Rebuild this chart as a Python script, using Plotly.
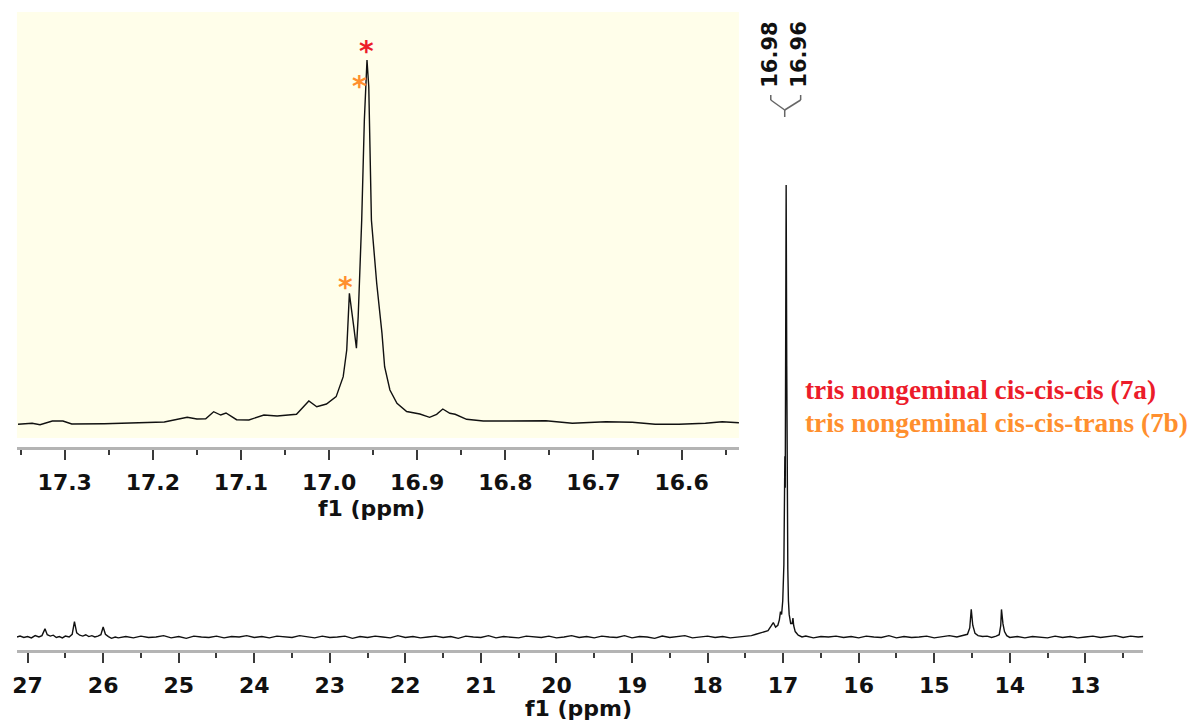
import plotly.graph_objects as go

# ---------------- data ----------------
# main spectrum (ppm, relative intensity)
main_ppm = [27.14, 27.10, 27.05, 27.00, 26.95, 26.90, 26.85, 26.81, 26.77, 26.74,
            26.70, 26.66, 26.62, 26.58, 26.54, 26.50, 26.45, 26.41, 26.38, 26.35,
            26.31, 26.27, 26.23, 26.19, 26.15, 26.11, 26.07, 26.03, 26.00, 25.97,
            25.93, 25.89, 25.84, 25.80,
            25.7, 25.6, 25.5, 25.4, 25.3, 25.2, 25.1, 25.0, 24.9, 24.8,
            24.7, 24.6, 24.5, 24.4, 24.3, 24.2, 24.1, 24.0, 23.9, 23.8,
            23.7, 23.6, 23.5, 23.4, 23.3, 23.2, 23.1, 23.0, 22.9, 22.8,
            22.7, 22.6, 22.5, 22.4, 22.3, 22.2, 22.1, 22.0, 21.9, 21.8,
            21.7, 21.6, 21.5, 21.4, 21.3, 21.2, 21.1, 21.0, 20.9, 20.8,
            20.7, 20.6, 20.5, 20.4, 20.3, 20.2, 20.1, 20.0, 19.9, 19.8,
            19.7, 19.6, 19.5, 19.4, 19.3, 19.2, 19.1, 19.0, 18.9, 18.8,
            18.7, 18.6, 18.5, 18.4, 18.3, 18.2, 18.1, 18.0, 17.9, 17.8,
            17.7, 17.6, 17.5, 17.42, 17.36, 17.30, 17.25, 17.20, 17.16, 17.13,
            17.10, 17.07, 17.05, 17.035, 17.02, 17.005, 16.99, 16.982, 16.977, 16.972,
            16.96, 16.952, 16.945, 16.938, 16.93, 16.92, 16.90, 16.88, 16.87, 16.86,
            16.84, 16.80, 16.75,
            16.7, 16.6, 16.5, 16.4, 16.3, 16.2, 16.1, 16.0, 15.9, 15.8,
            15.7, 15.6, 15.5, 15.4, 15.3, 15.2, 15.1, 15.0, 14.9, 14.8,
            14.7, 14.62, 14.56, 14.53, 14.51, 14.49, 14.46, 14.42, 14.36, 14.30,
            14.24, 14.18, 14.14, 14.12, 14.11, 14.09, 14.07, 14.04,
            14.0, 13.9, 13.8, 13.7, 13.6, 13.5, 13.4, 13.3, 13.2, 13.1,
            13.0, 12.9, 12.8, 12.7, 12.6, 12.5, 12.4, 12.3, 12.23]
main_int = [0.0, 0.2, -0.1, 0.1, -0.2, 0.3, 0.0, 0.3, 1.8, 0.5,
            0.2, 0.4, -0.1, 0.1, -0.2, 0.2, 0.0, 0.6, 3.4, 0.9,
            0.4, 0.2, 0.5, 0.1, 0.3, 0.0, 0.2, 0.5, 2.2, 0.6,
            0.1, -0.3, 0.0, -0.2,
            0.1, -0.2, 0.2, -0.1, 0.0, 0.3, -0.2, 0.1, -0.3, 0.2,
            0.0, -0.1, 0.2, -0.2, 0.1, 0.0, 0.3, -0.1, 0.1, -0.2,
            0.2, 0.0, -0.1, 0.3, 0.1, -0.2, 0.2, -0.1, 0.0, 0.2,
            -0.3, 0.1, -0.1, 0.2, 0.0, -0.2, 0.3, -0.1, 0.1, -0.2,
            0.0, 0.2, -0.1, 0.1, -0.3, 0.2, 0.0, -0.1, 0.3, -0.2,
            0.1, 0.0, -0.2, 0.2, 0.1, -0.1, 0.2, -0.2, 0.0, 0.3,
            -0.1, 0.1, -0.2, 0.2, 0.0, -0.1, 0.3, -0.2, 0.1, 0.0,
            -0.3, 0.2, -0.1, 0.1, 0.3, -0.2, 0.0, 0.2, -0.1, 0.1,
            -0.2, 0.0, 0.1, 0.3, 0.6, 0.9, 1.1, 1.4, 2.4, 3.2,
            2.2, 2.6, 3.8, 5.6, 5.0, 8.0, 16.0, 35.0, 40.0, 33.0,
            100.0, 60.0, 30.0, 15.0, 8.0, 5.0, 3.0, 3.0, 4.2, 2.5,
            1.2, 0.4, 0.0,
            0.2, -0.2, 0.1, 0.0, 0.2, -0.1, 0.1, -0.2, 0.2, 0.0,
            -0.1, 0.3, -0.2, 0.1, -0.1, 0.0, 0.2, -0.2, 0.1, 0.3,
            0.0, 0.4, 0.6, 2.0, 6.1, 2.6, 0.8, 0.3, 0.1, 0.2,
            -0.1, 0.2, 0.5, 2.5, 6.1, 2.9, 1.2, 0.3,
            -0.1, 0.1, -0.2, 0.1, 0.0, -0.2, 0.2, -0.1, 0.1, -0.2,
            0.0, 0.2, -0.1, 0.1, 0.3, -0.1, 0.2, 0.0, 0.1]

# inset (expanded region 17.35 - 16.54 ppm)
inset_ppm = [17.353, 17.337, 17.328, 17.314, 17.302, 17.292, 17.255, 17.218, 17.187, 17.161,
             17.150, 17.140, 17.131, 17.123, 17.117, 17.105, 17.091, 17.074, 17.059, 17.037,
             17.023, 17.014, 17.003, 16.992, 16.984, 16.980, 16.977, 16.972, 16.969, 16.967,
             16.964, 16.963, 16.960, 16.957, 16.955, 16.952, 16.946, 16.940, 16.937, 16.931,
             16.923, 16.912, 16.897, 16.886, 16.878, 16.871, 16.863, 16.857, 16.844, 16.825,
             16.799, 16.754, 16.724, 16.686, 16.656, 16.630, 16.603, 16.573, 16.554, 16.535]
inset_int = [-0.36, -0.08, -0.47, 0.55, 0.55, -0.28, -0.19, 0.0, 0.28, 1.57,
             1.10, 1.18, 3.11, 2.20, 2.75, 0.91, 0.83, 2.20, 1.93, 2.40,
             6.06, 4.49, 5.23, 7.25, 12.75, 20.1, 35.7, 26.5, 20.6, 29.3,
             47.7, 55.9, 83.5, 100.0, 92.6, 55.9, 38.5, 24.7, 15.5, 9.09,
             5.43, 3.17, 2.48, 1.57, 2.40, 3.86, 2.67, 2.40, 1.02, 0.55,
             0.55, 0.63, -0.08, 0.36, 0.19, -0.36, -0.36, -0.08, 0.36, 0.08]

peak_labels = ["16.98", "16.96"]
legend_labels = ["tris nongeminal cis-cis-cis (7a)", "tris nongeminal cis-cis-trans (7b)"]
star_ppm = [16.957, 16.965, 16.981]
star_int = [104.0, 94.3, 38.9]
star_kind = ["7a", "7b", "7b"]

# ---------------- layout helpers ----------------
W, H = 1193, 722


def px(x):
    return x / W


def py(y):
    return 1 - y / H


RED = "#ec1c2a"
ORANGE = "#ff8f2e"
kind_color = {"7a": RED, "7b": ORANGE}

tickfont = dict(family="DejaVu Sans", size=22, color="#111111", weight="bold")
axis_common = dict(showline=True, linecolor="#b4b4b4", linewidth=3, ticks="outside",
                   ticklen=10, tickwidth=2, tickcolor="#3a3a3a", showgrid=False,
                   zeroline=False, tickfont=tickfont, ticklabelstandoff=4)

fig = go.Figure()
fig.add_trace(go.Scatter(x=main_ppm, y=main_int, mode="lines",
                         line=dict(color="#111111", width=1.4),
                         xaxis="x", yaxis="y", hoverinfo="skip", showlegend=False))
fig.add_trace(go.Scatter(x=inset_ppm, y=inset_int, mode="lines",
                         line=dict(color="#111111", width=1.4),
                         xaxis="x2", yaxis="y2", hoverinfo="skip", showlegend=False))

fig.update_layout(
    width=W, height=H, margin=dict(l=0, r=0, t=0, b=0),
    paper_bgcolor="white", plot_bgcolor="rgba(0,0,0,0)", showlegend=False,
    xaxis=dict(domain=[px(12), px(1143)], range=[27.141, 12.234], anchor="y",
               dtick=1, tick0=0,
               minor=dict(dtick=0.5, tick0=0, ticklen=5, tickwidth=2,
                          tickcolor="#3a3a3a", ticks="outside"),
               **axis_common),
    yaxis=dict(domain=[py(650), 1], range=[-2.876, 140.9], visible=False),
    xaxis2=dict(domain=[px(12), px(737)], range=[17.3542, 16.535], anchor="y2",
                dtick=0.1, tick0=0, tickformat=".1f",
                minor=dict(dtick=0.05, tick0=0, ticklen=5, tickwidth=2,
                           tickcolor="#3a3a3a", ticks="outside"),
                **axis_common),
    yaxis2=dict(domain=[py(447), py(12)], range=[-6.61, 113.2], visible=False),
)

# inset background
fig.add_shape(type="rect", xref="paper", yref="paper",
              x0=px(12), x1=px(737), y0=py(438), y1=py(12),
              fillcolor="#fffeea", line=dict(width=0), layer="below")

ann = []
titlefont = dict(family="DejaVu Sans", size=22, color="#111111", weight="bold")
ann.append(dict(text="f1 (ppm)", x=px(576), y=py(708), xref="paper", yref="paper",
                xanchor="center", yanchor="middle", showarrow=False, font=titlefont))
ann.append(dict(text="f1 (ppm)", x=px(368), y=py(508), xref="paper", yref="paper",
                xanchor="center", yanchor="middle", showarrow=False, font=titlefont))

# legend text
for i, (lab, col) in enumerate(zip(legend_labels, [RED, ORANGE])):
    ann.append(dict(text=lab, x=px(801), y=py(390 + 33 * i), xref="paper", yref="paper",
                    xanchor="left", yanchor="middle", showarrow=False,
                    font=dict(family="Liberation Serif", size=27.3, color=col, weight="bold")))

# peak labels (rotated)
for lab, xx in zip(peak_labels, [768, 797]):
    ann.append(dict(text=lab, x=px(xx), y=py(55), xref="paper", yref="paper",
                    xanchor="center", yanchor="middle", textangle=-90, showarrow=False,
                    font=dict(family="DejaVu Sans", size=21, color="#111111", weight="bold")))

# asterisks
for sx, sy, k in zip(star_ppm, star_int, star_kind):
    ann.append(dict(text="*", x=sx, y=sy, xref="x2", yref="y2",
                    xanchor="center", yanchor="middle", showarrow=False, yshift=-6,
                    font=dict(family="DejaVu Sans", size=28, color=kind_color[k], weight="bold")))

fig.update_layout(annotations=ann)

# bracket joining the two peak labels
bracket = [((769, 95), (769, 100)), ((769, 100), (783, 110)),
           ((799, 95), (799, 100)), ((799, 100), (783, 110)),
           ((783, 110), (783, 117))]
for (x0, y0), (x1, y1) in bracket:
    fig.add_shape(type="line", xref="paper", yref="paper",
                  x0=px(x0), y0=py(y0), x1=px(x1), y1=py(y1),
                  line=dict(color="#666666", width=1.5))

fig.write_html("out.html", config={"displayModeBar": False},
               post_script="document.body.style.margin='0px';"
                           "document.body.style.overflow='hidden';")
